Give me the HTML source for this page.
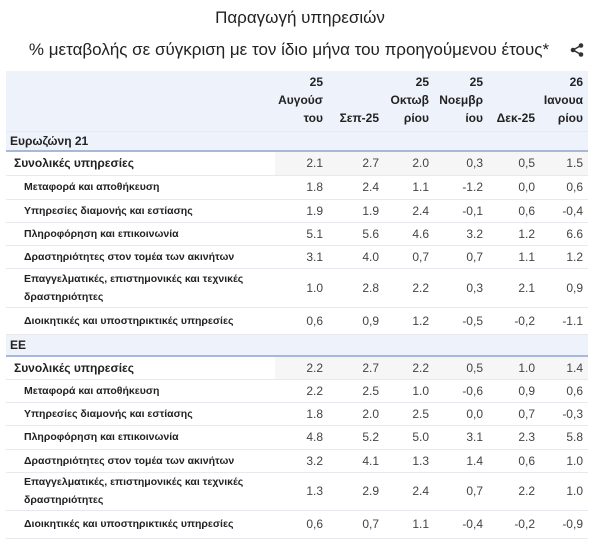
<!DOCTYPE html>
<html><head><meta charset="utf-8"><style>
body{margin:0;width:600px;height:548px;background:#fff;font-family:"Liberation Sans","Noto Sans CJK SC",sans-serif;color:#222;overflow:hidden}
.t1{position:absolute;top:8px;left:0;width:600px;text-align:center;font-size:17px;color:#222}
.t2{position:absolute;top:40px;left:0;width:578px;text-align:center;font-size:17px;color:#222}
.sh{position:absolute;left:570px;top:43px}
table{position:absolute;left:6px;top:71px;border-collapse:collapse;table-layout:fixed;width:582px}
td{padding:0 5px 0 0;text-align:right;font-size:12px;color:#444;white-space:nowrap}
td.l{text-align:left;font-weight:bold;font-size:10.5px;color:#222;padding-left:18px;white-space:normal;line-height:18px}
tr.h td{background:#eef3fb;font-weight:bold;color:#222;font-size:12px;line-height:18px;vertical-align:bottom;padding-bottom:4px;white-space:normal}
tr.s td{background:#eef3fb;font-weight:bold;color:#222;font-size:12px;text-align:left;padding-left:4px;border-bottom:2px solid #a9b8d6}
tr.g td.l{font-size:12px;padding-left:8px}
tr td{border-bottom:1px solid #e6e9ee}
tr.g td:not(.l){background:#f6f6f6}
</style></head><body>
<div class="t1">Παραγωγή υπηρεσιών</div>
<div class="t2">% μεταβολής σε σύγκριση με τον ίδιο μήνα του προηγούμενου έτους*</div>
<svg class="sh" width="14" height="14" viewBox="0 0 14 14"><circle cx="11" cy="2.5" r="2.3" fill="#333"/><circle cx="3" cy="7" r="2.3" fill="#333"/><circle cx="11" cy="11.5" r="2.3" fill="#333"/><path d="M11 2.5L3 7L11 11.5" stroke="#333" stroke-width="1.5" fill="none"/></svg>
<table>
<colgroup><col style="width:269px"><col style="width:53px"><col style="width:56px"><col style="width:50px"><col style="width:54px"><col style="width:52px"><col style="width:48px"></colgroup>
<tr class="h" style="height:60px"><td></td><td>25 Αυγούσ του</td><td>Σεπ-25</td><td>25 Οκτωβ ρίου</td><td>25 Νοεμβρ ίου</td><td>Δεκ-25</td><td>26 Ιανουα ρίου</td></tr>
<tr class="s" style="height:20px"><td colspan="7">Ευρωζώνη 21</td></tr>
<tr class="g" style="height:24px"><td class="l">Συνολικές υπηρεσίες</td><td>2.1</td><td>2.7</td><td>2.0</td><td>0,3</td><td>0,5</td><td>1.5</td></tr>
<tr style="height:24px"><td class="l">Μεταφορά και αποθήκευση</td><td>1.8</td><td>2.4</td><td>1.1</td><td>-1.2</td><td>0,0</td><td>0,6</td></tr>
<tr style="height:23px"><td class="l">Υπηρεσίες διαμονής και εστίασης</td><td>1.9</td><td>1.9</td><td>2.4</td><td>-0,1</td><td>0,6</td><td>-0,4</td></tr>
<tr style="height:23px"><td class="l">Πληροφόρηση και επικοινωνία</td><td>5.1</td><td>5.6</td><td>4.6</td><td>3.2</td><td>1.2</td><td>6.6</td></tr>
<tr style="height:23px"><td class="l">Δραστηριότητες στον τομέα των ακινήτων</td><td>3.1</td><td>4.0</td><td>0,7</td><td>0,7</td><td>1.1</td><td>1.2</td></tr>
<tr style="height:39px"><td class="l">Επαγγελματικές, επιστημονικές και τεχνικές δραστηριότητες</td><td>1.0</td><td>2.8</td><td>2.2</td><td>0,3</td><td>2.1</td><td>0,9</td></tr>
<tr style="height:27px"><td class="l">Διοικητικές και υποστηρικτικές υπηρεσίες</td><td>0,6</td><td>0,9</td><td>1.2</td><td>-0,5</td><td>-0,2</td><td>-1.1</td></tr>
<tr class="s" style="height:22px"><td colspan="7">ΕΕ</td></tr>
<tr class="g" style="height:23px"><td class="l">Συνολικές υπηρεσίες</td><td>2.2</td><td>2.7</td><td>2.2</td><td>0,5</td><td>1.0</td><td>1.4</td></tr>
<tr style="height:23px"><td class="l">Μεταφορά και αποθήκευση</td><td>2.2</td><td>2.5</td><td>1.0</td><td>-0,6</td><td>0,9</td><td>0,6</td></tr>
<tr style="height:23px"><td class="l">Υπηρεσίες διαμονής και εστίασης</td><td>1.8</td><td>2.0</td><td>2.5</td><td>0,0</td><td>0,7</td><td>-0,3</td></tr>
<tr style="height:24px"><td class="l">Πληροφόρηση και επικοινωνία</td><td>4.8</td><td>5.2</td><td>5.0</td><td>3.1</td><td>2.3</td><td>5.8</td></tr>
<tr style="height:23px"><td class="l">Δραστηριότητες στον τομέα των ακινήτων</td><td>3.2</td><td>4.1</td><td>1.3</td><td>1.4</td><td>0,6</td><td>1.0</td></tr>
<tr style="height:38px"><td class="l">Επαγγελματικές, επιστημονικές και τεχνικές δραστηριότητες</td><td>1.3</td><td>2.9</td><td>2.4</td><td>0,7</td><td>2.2</td><td>1.0</td></tr>
<tr style="height:28px"><td class="l">Διοικητικές και υποστηρικτικές υπηρεσίες</td><td>0,6</td><td>0,7</td><td>1.1</td><td>-0,4</td><td>-0,2</td><td>-0,9</td></tr>
</table>
</body></html>
